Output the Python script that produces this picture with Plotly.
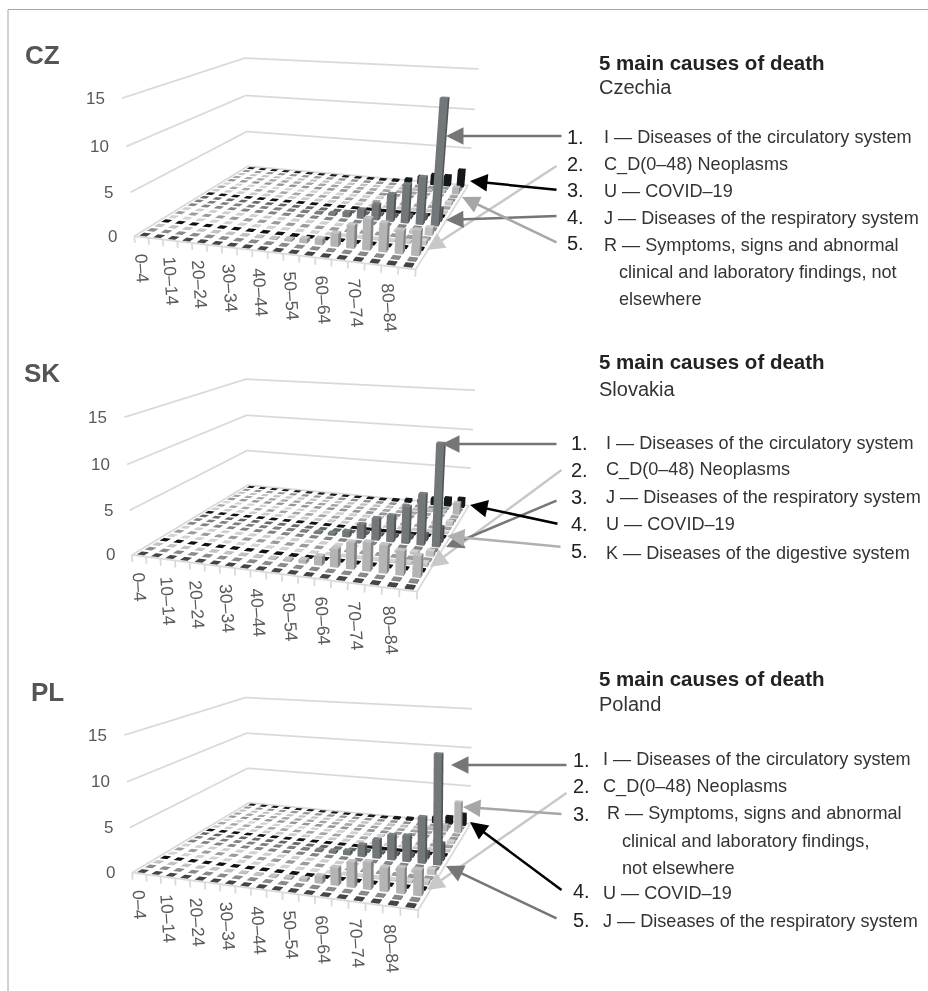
import plotly.graph_objects as go

AGES = ['0–4','5–9','10–14','15–19','20–24','25–29','30–34','35–39','40–44','45–49','50–54','55–59','60–64','65–69','70–74','75–79','80–84','85+']
N_ROWS = 19
ROW_COLORS = ['#404040','#808080','#b4b4b4','#111111','#c4c4c4','#909090','#c0c0c0','#7a7a7a','#72787a','#5c6162',
              '#111111','#bdbdbd','#999999','#c4c4c4','#8a8a8a','#999999','#b4b4b4','#8a8a8a','#16191b']
BACKGROUND = [.02,.02,.02,.02,.03,.03,.03,.04,.04,.05,.05,.06,.06,.07,.08,.08,.1,.12]
ROW_C_D, ROW_E, ROW_G, ROW_I, ROW_J, ROW_K, ROW_R, ROW_U = 2, 4, 6, 8, 9, 13, 16, 18

CZ_C_D = [.02,.02,.02,.02,.03,.03,.05,.08,.12,.25,.5,.7,1.5,2.6,3.5,3.2,2.6,2.8]
CZ_E = [.01,.01,.01,.01,.01,.02,.02,.02,.03,.03,.04,.05,.06,.08,.1,.12,.2,.5]
CZ_G = [.01,.01,.01,.01,.01,.02,.02,.02,.03,.03,.04,.05,.06,.1,.12,.2,.35,.9]
CZ_I = [.01,.01,.01,.02,.02,.03,.04,.06,.1,.15,.3,.6,1.1,1.9,3.3,4.6,5.6,14.4]
CZ_J = [.01,.01,.01,.01,.02,.02,.02,.03,.03,.05,.05,.08,.12,.2,.3,.4,.6,1.6]
CZ_K = [.01,.01,.01,.01,.01,.02,.02,.03,.03,.05,.05,.08,.1,.1,.12,.15,.2,.4]
CZ_R = [.01,.01,.01,.01,.01,.02,.02,.02,.03,.03,.03,.05,.08,.1,.15,.2,.3,.9]
CZ_U = [.01,.01,.01,.01,.01,.02,.02,.02,.03,.05,.08,.1,.2,.5,1.0,1.4,1.4,2.3]
SK_C_D = [.02,.02,.02,.02,.03,.03,.05,.08,.12,.2,.4,1.0,2.0,2.9,3.1,3.0,2.6,2.3]
SK_E = [.01,.01,.01,.01,.01,.02,.02,.02,.03,.03,.04,.05,.06,.08,.1,.12,.2,.4]
SK_G = [.01,.01,.01,.01,.01,.02,.02,.02,.03,.03,.04,.05,.06,.1,.12,.2,.3,.6]
SK_I = [.01,.01,.01,.02,.02,.03,.04,.06,.1,.2,.3,.7,1.7,2.6,3.1,4.3,5.9,11.7]
SK_J = [.01,.01,.01,.01,.02,.02,.02,.03,.03,.05,.08,.1,.15,.2,.3,.4,.8,1.8]
SK_K = [.01,.01,.01,.01,.01,.02,.02,.03,.03,.05,.08,.1,.12,.15,.15,.2,.3,.5]
SK_R = [.01,.01,.01,.01,.01,.02,.02,.02,.03,.03,.03,.05,.08,.1,.12,.15,.3,1.5]
SK_U = [.01,.01,.01,.01,.01,.02,.02,.02,.03,.05,.08,.1,.2,.4,.6,.9,1.1,1.2]
PL_C_D = [.02,.02,.02,.02,.03,.03,.05,.08,.12,.2,.3,.8,1.9,2.7,2.9,2.5,2.7,2.7]
PL_E = [.01,.01,.01,.01,.01,.02,.02,.02,.03,.03,.04,.05,.06,.08,.1,.12,.2,.4]
PL_G = [.01,.01,.01,.01,.01,.02,.02,.02,.03,.03,.04,.05,.06,.1,.12,.2,.3,.6]
PL_I = [.01,.01,.01,.02,.02,.03,.04,.06,.1,.2,.3,.5,1.4,2.2,2.9,3.0,5.3,12.5]
PL_J = [.01,.01,.01,.01,.02,.02,.02,.03,.03,.05,.08,.1,.15,.2,.3,.4,.8,2.0]
PL_K = [.01,.01,.01,.01,.01,.02,.02,.03,.03,.05,.05,.08,.1,.1,.12,.15,.2,.3]
PL_R = [.01,.01,.01,.01,.01,.02,.02,.02,.03,.03,.03,.05,.08,.1,.15,.3,.8,3.9]
PL_U = [.01,.01,.01,.01,.01,.02,.02,.02,.03,.05,.08,.1,.2,.3,.6,.8,1.0,1.5]

COUNTRIES = [
    dict(dom=(0,600,0,700), cam=(1.352,-4.188,.995,.144,-.688,-.829,1.391,1.459,.740),
         rows={ROW_C_D:CZ_C_D,ROW_E:CZ_E,ROW_G:CZ_G,ROW_I:CZ_I,ROW_J:CZ_J,ROW_K:CZ_K,ROW_R:CZ_R,ROW_U:CZ_U}),
    dict(dom=(0,600,140,840), cam=(1.256,-3.726,.936,-.002,-.225,-.060,1.279,1.298,.699),
         rows={ROW_C_D:SK_C_D,ROW_E:SK_E,ROW_G:SK_G,ROW_I:SK_I,ROW_J:SK_J,ROW_K:SK_K,ROW_R:SK_R,ROW_U:SK_U}),
    dict(dom=(100,700,391,991), cam=(1.439,-3.345,1.024,.166,.968,.353,1.401,1.148,.753),
         rows={ROW_C_D:PL_C_D,ROW_E:PL_E,ROW_G:PL_G,ROW_I:PL_I,ROW_J:PL_J,ROW_K:PL_K,ROW_R:PL_R,ROW_U:PL_U}),
]

W, H = 928, 991
XR, YR, ZR = (0,18), (0,N_ROWS), (-1,16)

def shade(hexc,f):
    c=[int(hexc[i:i+2],16) for i in (1,3,5)]
    c=[min(255,int(v*f)) for v in c]
    return 'rgb(%d,%d,%d)'%tuple(c)
def bars(rows):
    X,Y,Z,I,J,K,FC=[],[],[],[],[],[],[]
    for r in range(N_ROWS):
        vals=rows.get(r,BACKGROUND); col=ROW_COLORS[r]
        for c,v in enumerate(vals):
            x0,x1,y0,y1=c+.25,c+.75,r+.2,r+.8
            n=len(X)
            X+=[x0,x1,x1,x0,x0,x1,x1,x0]; Y+=[y0,y0,y1,y1,y0,y0,y1,y1]; Z+=[0,0,0,0,v,v,v,v]
            tr=[(0,1,5),(0,5,4),(1,2,6),(1,6,5),(4,5,6),(4,6,7)]
            fs=[1.0,1.0,.72,.72,1.08,1.08]
            for t,f in zip(tr,fs):
                I.append(n+t[0]);J.append(n+t[1]);K.append(n+t[2]);FC.append(shade(col,f))
    return X,Y,Z,I,J,K,FC
def grid():
    xs,ys,zs=[],[],[]
    for z in (5,10,15):
        xs+=[0,0,18,None];ys+=[0,19,19,None];zs+=[z,z,z,None]
    xs+=[0,0,18,18,0,None];ys+=[0,19,19,0,0,None];zs+=[0,0,0,0,0,None]
    for c in range(19):
        xs+=[c,c,None];ys+=[0,0,None];zs+=[0,-.8,None]
    return xs,ys,zs

fig=go.Figure(); ann=[]; FC_TXT='#595959'
def axis(rng):
    return dict(range=list(rng),autorange=False,showgrid=False,zeroline=False,showline=False,showticklabels=False,
                showbackground=False,showspikes=False,ticks='',title=dict(text=''))
layout_scenes={}
shapes=[dict(type='line',xref='paper',yref='paper',x0=8/W,x1=1,y0=1-9.5/H,y1=1-9.5/H,line=dict(color='#a6a6a6',width=1)),
        dict(type='line',xref='paper',yref='paper',x0=8/W,x1=8/W,y0=0,y1=1-9.5/H,line=dict(color='#a6a6a6',width=1))]
for i,cn in enumerate(COUNTRIES):
    name='scene' if i==0 else f'scene{i+1}'
    P=cn['cam']; SX0,SX1,y0,y1=cn['dom']
    X,Y,Z,II,JJ,KK,FC=bars(cn['rows'])
    fig.add_trace(go.Mesh3d(x=X,y=Y,z=Z,i=II,j=JJ,k=KK,facecolor=FC,flatshading=True,showscale=False,hoverinfo='skip',
        lighting=dict(ambient=1,diffuse=0,specular=0,fresnel=0,roughness=1),scene=name))
    gx,gy,gz=grid()
    fig.add_trace(go.Scatter3d(x=gx,y=gy,z=gz,mode='lines',line=dict(color='#d9d9d9',width=3.5),hoverinfo='skip',showlegend=False,scene=name))
    sa=[]
    for k,lab in enumerate(AGES):
        if k%2==0:
            sa.append(dict(x=k+.5,y=0,z=-1,text=lab,showarrow=False,textangle=86,xanchor='center',yanchor='top',yshift=-5,
                           font=dict(family='Liberation Sans',size=17.5,color=FC_TXT)))
    for z in (0,5,10,15):
        sa.append(dict(x=0,y=0,z=z,text=str(z),showarrow=False,xanchor='right',xshift=-15,yanchor='middle',
                       font=dict(family='Liberation Sans',size=17,color=FC_TXT)))
    layout_scenes[name]=dict(domain=dict(x=[SX0/W,SX1/W],y=[1-y1/H,1-y0/H]),
        xaxis=axis(XR),yaxis=axis(YR),zaxis=axis(ZR),annotations=sa,aspectmode='manual',aspectratio=dict(x=P[6],y=P[7],z=P[8]),
        camera=dict(eye=dict(x=P[0],y=P[1],z=P[2]),center=dict(x=P[3],y=P[4],z=P[5]),up=dict(x=0,y=0,z=1)))

def text(x,y,t,size=18.1,color='#333333',bold=False):
    ann.append(dict(x=(x-2)/W,y=1-y/H,xref='paper',yref='paper',text=f'<b>{t}</b>' if bold else t,showarrow=False,xanchor='left',yanchor='middle',
                    font=dict(family='Liberation Sans',size=size,color=color)))
def arrow(tail,head,color):
    ann.append(dict(x=head[0]/W,y=1-head[1]/H,xref='paper',yref='paper',ax=tail[0]-head[0],ay=tail[1]-head[1],axref='pixel',ayref='pixel',
                    text='',showarrow=True,arrowhead=2,arrowsize=1.4,arrowwidth=2.5,arrowcolor=color,standoff=0))
DG,LG,MG='#767676','#c8c8c8','#a6a6a6'
text(25,55,'CZ',26,'#555555',True);text(24,373,'SK',26,'#555555',True);text(31,692,'PL',26,'#555555',True)
for y,n,yy in ((62,'Czechia',87),(362,'Slovakia',389),(678,'Poland',704)):
    text(599,y,'5 main causes of death',20.5,'#222222',True); text(599,yy,n,20,'#333333')
for x,y,t in ((567,137,'1.'),(567,164,'2.'),(567,190,'3.'),(567,217,'4.'),(567,243,'5.'),
              (571,443,'1.'),(571,470,'2.'),(571,497,'3.'),(571,524,'4.'),(571,551,'5.'),
              (573,760,'1.'),(573,786,'2.'),(573,814,'3.'),(573,891,'4.'),(573,920,'5.')):
    text(x,y,t,20,'#222222')
for x,y,t in ((604,137,'I — Diseases of the circulatory system'),(604,164,'C_D(0–48) Neoplasms'),(604,191,'U — COVID–19'),
              (604,218,'J — Diseases of the respiratory system'),(604,245,'R — Symptoms, signs and abnormal'),
              (619,272,'clinical and laboratory findings, not'),(619,299,'elsewhere'),
              (606,443,'I — Diseases of the circulatory system'),(606,470,'C_D(0–48) Neoplasms'),(606,497,'J — Diseases of the respiratory system'),
              (606,524,'U — COVID–19'),(606,553,'K — Diseases of the digestive system'),
              (603,759,'I — Diseases of the circulatory system'),(603,786,'C_D(0–48) Neoplasms'),(607,813,'R — Symptoms, signs and abnormal'),
              (622,841,'clinical and laboratory findings,'),(622,868,'not elsewhere'),(603,893,'U — COVID–19'),(603,921,'J — Diseases of the respiratory system')):
    text(x,y,t)
for t,h,c in (((563,136),(446,136),DG),((558,165),(427,250),LG),((558,190),(470,181),'#000000'),((558,216),(446,220),DG),((558,243),(462,197),MG),
              ((558,444),(442,444),DG),((563,469),(430,567),LG),((558,500),(446,547),DG),((559,524),(470,505),'#000000'),((562,547),(447,536),'#b0b0b0'),
              ((568,765),(451,765),DG),((568,792),(427,890),LG),((563,814),(463,807),MG),((563,891),(470,822),'#000000'),((558,919),(446,866),DG)):
    arrow(t,h,c)
fig.update_layout(width=W,height=H,margin=dict(l=0,r=0,t=0,b=0),paper_bgcolor='white',showlegend=False,annotations=ann,shapes=shapes,**layout_scenes)
fig.write_html('out.html',post_script="document.body.style.margin='0';",config={'displayModeBar':False})
